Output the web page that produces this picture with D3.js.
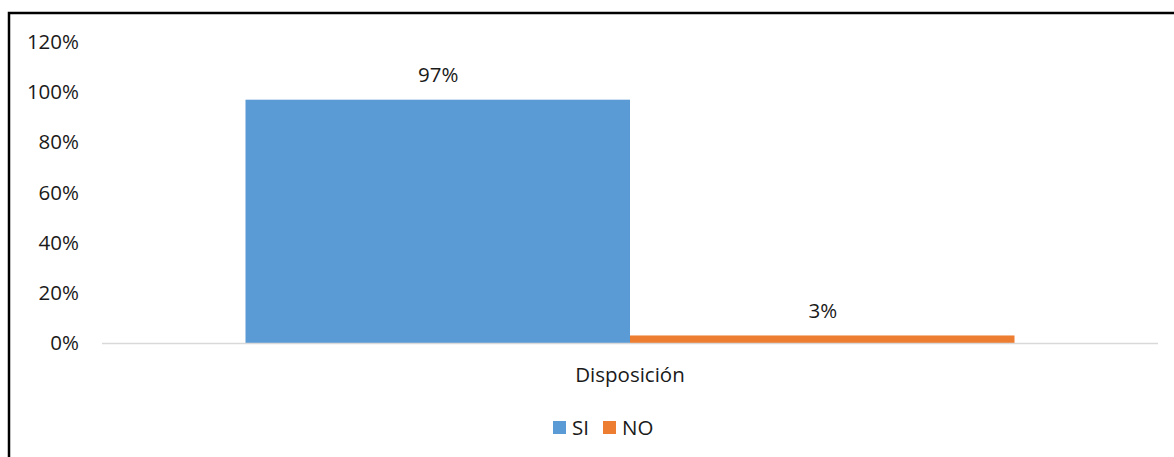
<!DOCTYPE html>
<html lang="es">
<head>
  <meta charset="UTF-8">
  <title>Disposición</title>
  <style>
    body { margin: 0; background: #fff; }
    svg text { font-family: "Open Sans", "Liberation Sans", sans-serif; fill: #1a1a1a; }
  </style>
</head>
<body>
  <svg id="svg" width="1174" height="457"></svg>
  <script src="https://d3js.org/d3.v7.min.js"></script>
  <script>
    const categories = ['Disposición']
    const seriesNames = ['SI', 'NO']
    const seriesValues = [0.97, 0.03]
    const seriesColors = ['#5b9bd5', '#ed7d31']
    const tickValues = [0, 0.2, 0.4, 0.6, 0.8, 1.0, 1.2]

    const fontSize = 20.5
    const svg = d3.select('#svg')

    // outer frame, runs off the right and bottom edges
    svg.append('rect')
      .attr('x', 9).attr('y', 13)
      .attr('width', 1200).attr('height', 500)
      .attr('fill', 'none').attr('stroke', '#000').attr('stroke-width', 2.5)

    const plotLeft = 102, plotRight = 1158, plotTop = 42, plotBottom = 343

    const y = d3.scaleLinear().domain([0, 1.2]).range([plotBottom, plotTop])
    const x0 = d3.scaleBand().domain(categories).range([plotLeft, plotRight]).paddingInner(0).paddingOuter(0.1866)
    const x1 = d3.scaleBand().domain(seriesNames).range([0, x0.bandwidth()])

    // y axis labels
    const yAxis = d3.axisLeft(y).tickValues(tickValues).tickFormat(d3.format('.0%')).tickSize(0).tickPadding(0)
    const gy = svg.append('g').attr('transform', 'translate(79,0)').call(yAxis)
    gy.select('.domain').remove()
    gy.selectAll('text').attr('font-size', fontSize).attr('fill', '#1a1a1a')
      .style('font-family', '"Open Sans", "Liberation Sans", sans-serif')

    // bars
    const rows = seriesNames.map((s, i) => ({ cat: categories[0], name: s, value: seriesValues[i], color: seriesColors[i] }))
    svg.selectAll('rect.bar').data(rows).enter().append('rect')
      .attr('class', 'bar')
      .attr('x', d => x0(d.cat) + x1(d.name))
      .attr('y', d => y(d.value))
      .attr('width', x1.bandwidth())
      .attr('height', d => y(0) - y(d.value))
      .attr('fill', d => d.color)

    // baseline
    svg.append('line')
      .attr('x1', plotLeft).attr('x2', plotRight)
      .attr('y1', y(0) + 0.5).attr('y2', y(0) + 0.5)
      .attr('stroke', '#d9d9d9').attr('stroke-width', 1.5)

    // value labels
    svg.selectAll('text.val').data(rows).enter().append('text')
      .attr('class', 'val')
      .attr('x', d => x0(d.cat) + x1(d.name) + x1.bandwidth() / 2 + 0.5)
      .attr('y', d => y(d.value) - 17.5)
      .attr('text-anchor', 'middle')
      .attr('font-size', fontSize)
      .text(d => d3.format('.0%')(d.value))

    // category label
    svg.selectAll('text.cat').data(categories).enter().append('text')
      .attr('class', 'cat')
      .attr('x', d => x0(d) + x0.bandwidth() / 2)
      .attr('y', 382)
      .attr('text-anchor', 'middle')
      .attr('font-size', fontSize)
      .text(d => d)

    // legend
    const legendX = [553, 603]
    const lg = svg.selectAll('g.leg').data(rows).enter().append('g')
      .attr('class', 'leg')
      .attr('transform', (d, i) => `translate(${legendX[i]},421)`)
    lg.append('rect').attr('width', 13).attr('height', 13).attr('fill', d => d.color)
    lg.append('text').attr('x', 19).attr('y', 14).attr('font-size', fontSize).text(d => d.name)
  </script>
</body>
</html>
